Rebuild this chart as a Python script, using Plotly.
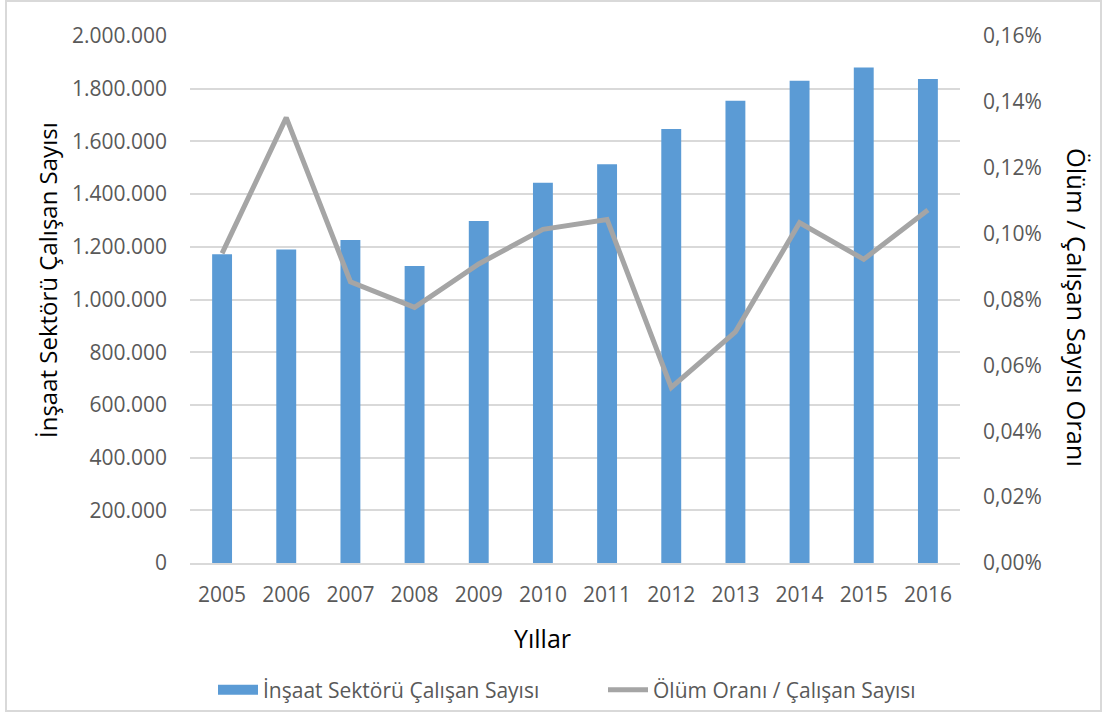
import plotly.graph_objects as go

years = ["2005", "2006", "2007", "2008", "2009", "2010", "2011", "2012", "2013", "2014", "2015", "2016"]
workers = [1172000, 1190000, 1226000, 1127000, 1298000, 1443000, 1513000, 1647000, 1754000, 1830000, 1880000, 1837000]
ratio = [0.0940, 0.1352, 0.0854, 0.0776, 0.0908, 0.1013, 0.1043, 0.0533, 0.0702, 0.1033, 0.0922, 0.1072]  # percent

left_ticks = list(range(0, 2000001, 200000))
left_labels = ["0" if v == 0 else f"{v:,}".replace(",", ".") for v in left_ticks]
right_ticks = [i * 0.02 for i in range(9)]
right_labels = [f"{v:.2f}%".replace(".", ",") for v in right_ticks]

bar_name = "İnşaat Sektörü Çalışan Sayısı"
line_name = "Ölüm Oranı / Çalışan Sayısı"

FONT = "Open Sans"
W, H = 1103, 715
L, R, T, B = 190, 143, 36, 152
pw, ph = W - L - R, H - T - B

def px(x):
    return (x - L) / pw

def py(y):
    return (H - B - y) / ph

BLUE = "#5B9BD5"
GREY = "#A5A5A5"

fig = go.Figure()
fig.add_trace(go.Bar(x=years, y=workers, name=bar_name, marker=dict(color=BLUE, line=dict(width=0)),
                     yaxis="y", showlegend=False))
# legend swatch for the bar series (wide rectangle as in the original)
fig.add_trace(go.Scatter(x=[None], y=[None], name=bar_name, mode="lines",
                         line=dict(color=BLUE, width=14), yaxis="y", showlegend=True, legend="legend"))
fig.add_trace(go.Scatter(x=years, y=ratio, name=line_name, mode="lines",
                         line=dict(color=GREY, width=5), yaxis="y2", legend="legend2"))

legend_common = dict(orientation="h", xanchor="left", yanchor="middle",
                     font=dict(size=21, color="#595959", family=FONT), itemwidth=40,
                     bgcolor="rgba(0,0,0,0)", borderwidth=0)

fig.update_layout(
    width=W, height=H,
    margin=dict(l=L, r=R, t=T, b=B, autoexpand=False),
    paper_bgcolor="white", plot_bgcolor="white",
    bargap=0.69,
    font=dict(family=FONT, color="#595959", size=21),
    showlegend=True,
    legend=dict(x=px(213), y=py(690), **legend_common),
    legend2=dict(x=px(603), y=py(690), **legend_common),
    xaxis=dict(type="category", showgrid=False, showline=True, linecolor="#D9D9D9", linewidth=1.5,
               ticks="", tickfont=dict(size=21, color="#595959"), ticklabelstandoff=12, range=[-0.5, 11.5]),
    yaxis=dict(range=[0, 2000000], tickvals=left_ticks, ticktext=left_labels, showgrid=True,
               gridcolor="#D9D9D9", gridwidth=1.5, zeroline=False, showline=False, ticks="",
               tickfont=dict(size=21, color="#595959"), ticklabelstandoff=22),
    yaxis2=dict(range=[0, 0.16], tickvals=right_ticks, ticktext=right_labels, overlaying="y", side="right",
                showgrid=False, zeroline=False, showline=False, ticks="",
                tickfont=dict(size=21, color="#595959"), ticklabelstandoff=22),
    annotations=[
        dict(text="Yıllar", x=px(542), y=py(638), xref="paper", yref="paper", showarrow=False,
             font=dict(size=25, color="#000000", family=FONT), xanchor="center", yanchor="middle"),
        dict(text=bar_name, x=px(47), y=py(280), xref="paper", yref="paper", showarrow=False, textangle=-90,
             font=dict(size=24, color="#000000", family=FONT), xanchor="center", yanchor="middle"),
        dict(text="Ölüm / Çalışan Sayısı Oranı", x=px(1077), y=py(307), xref="paper", yref="paper",
             showarrow=False, textangle=90,
             font=dict(size=25.5, color="#000000", family=FONT), xanchor="center", yanchor="middle"),
    ],
    shapes=[
        dict(type="rect", xref="paper", yref="paper", x0=px(6), x1=px(1101), y0=py(711), y1=py(1),
             line=dict(color="#D9D9D9", width=2), layer="below"),
    ],
)

fig.write_html("out.html", config={"displayModeBar": False},
               post_script="document.body.style.margin='0px';document.body.style.overflow='hidden';")
